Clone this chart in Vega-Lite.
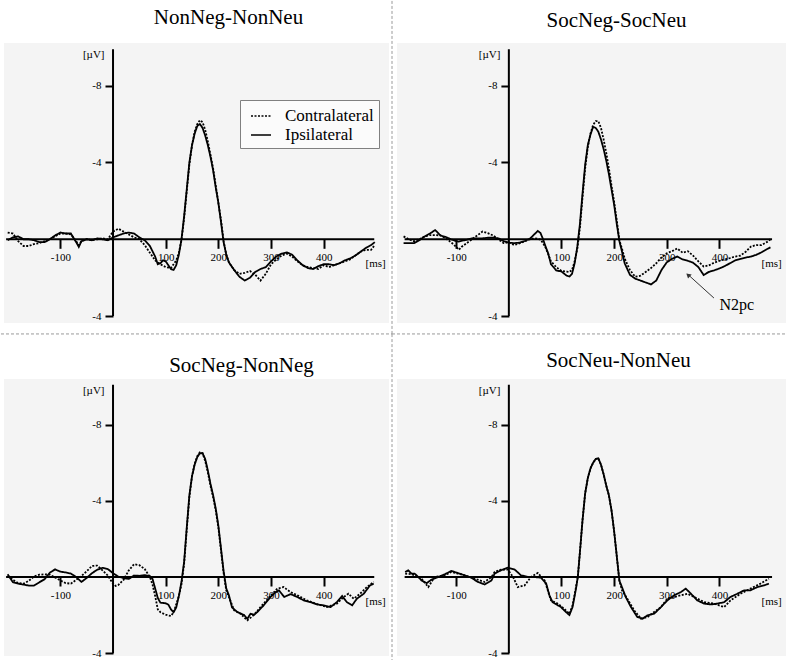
{
"$schema": "https://vega.github.io/schema/vega-lite/v6.json",
"padding": 0,
"background": "white",
"config": {
  "view": {"fill": "#f4f4f4", "stroke": null},
  "font": "Liberation Serif",
  "title": {"font": "Liberation Serif", "fontSize": 21, "fontWeight": "normal", "color": "black", "anchor": "middle", "frame": "group", "baseline": "alphabetic"},
  "axis": {"domain": false, "grid": false, "ticks": true, "tickColor": "black", "tickWidth": 2, "labelFont": "Liberation Serif", "labelFontSize": 11, "labelColor": "black", "titleFont": "Liberation Serif", "titleFontSize": 11, "titleFontWeight": "normal", "titleColor": "black", "titleAngle": 0, "labelExpr": "datum.value < 0 ? '-' + abs(datum.value) : (datum.value == 4 ? '-4' : '' + datum.value)"},
  "axisX": {"tickSize": 9, "labelPadding": 3, "titleAlign": "left", "titleBaseline": "middle"},
  "axisY": {"tickSize": 8, "labelPadding": 4, "titleAlign": "right", "titleBaseline": "middle"}
},
"datasets": {
"p1": [
{"t":-200,"v":0.05,"s":"I"},{"t":-190,"v":-0.10,"s":"I"},{"t":-180,"v":-0.15,"s":"I"},{"t":-170,"v":0.00,"s":"I"},{"t":-160,"v":0.00,"s":"I"},{"t":-150,"v":0.05,"s":"I"},{"t":-140,"v":0.15,"s":"I"},{"t":-130,"v":0.15,"s":"I"},{"t":-120,"v":0.00,"s":"I"},{"t":-110,"v":-0.20,"s":"I"},{"t":-100,"v":-0.35,"s":"I"},{"t":-90,"v":-0.30,"s":"I"},{"t":-80,"v":-0.30,"s":"I"},{"t":-70,"v":0.15,"s":"I"},{"t":-65,"v":0.40,"s":"I"},{"t":-60,"v":0.10,"s":"I"},{"t":-50,"v":0.00,"s":"I"},{"t":-40,"v":0.05,"s":"I"},{"t":-30,"v":-0.05,"s":"I"},{"t":-20,"v":0.00,"s":"I"},{"t":-10,"v":0.05,"s":"I"},{"t":0,"v":-0.10,"s":"I"},{"t":10,"v":-0.20,"s":"I"},{"t":20,"v":-0.30,"s":"I"},{"t":30,"v":-0.35,"s":"I"},{"t":40,"v":-0.30,"s":"I"},{"t":50,"v":-0.10,"s":"I"},{"t":60,"v":0.05,"s":"I"},{"t":70,"v":0.35,"s":"I"},{"t":80,"v":0.90,"s":"I"},{"t":85,"v":1.30,"s":"I"},{"t":90,"v":1.25,"s":"I"},{"t":95,"v":1.10,"s":"I"},{"t":100,"v":1.15,"s":"I"},{"t":110,"v":1.55,"s":"I"},{"t":115,"v":1.60,"s":"I"},{"t":120,"v":1.35,"s":"I"},{"t":125,"v":0.80,"s":"I"},{"t":130,"v":0.00,"s":"I"},{"t":135,"v":-1.20,"s":"I"},{"t":140,"v":-2.60,"s":"I"},{"t":145,"v":-4.00,"s":"I"},{"t":150,"v":-4.90,"s":"I"},{"t":155,"v":-5.50,"s":"I"},{"t":160,"v":-5.90,"s":"I"},{"t":165,"v":-6.00,"s":"I"},{"t":170,"v":-5.80,"s":"I"},{"t":175,"v":-5.40,"s":"I"},{"t":180,"v":-4.90,"s":"I"},{"t":185,"v":-4.30,"s":"I"},{"t":190,"v":-3.60,"s":"I"},{"t":195,"v":-2.70,"s":"I"},{"t":200,"v":-1.90,"s":"I"},{"t":205,"v":-0.90,"s":"I"},{"t":210,"v":0.15,"s":"I"},{"t":215,"v":0.80,"s":"I"},{"t":220,"v":1.20,"s":"I"},{"t":230,"v":1.60,"s":"I"},{"t":240,"v":1.95,"s":"I"},{"t":250,"v":2.15,"s":"I"},{"t":260,"v":2.00,"s":"I"},{"t":270,"v":1.70,"s":"I"},{"t":280,"v":1.55,"s":"I"},{"t":290,"v":1.45,"s":"I"},{"t":300,"v":1.15,"s":"I"},{"t":310,"v":0.90,"s":"I"},{"t":320,"v":0.75,"s":"I"},{"t":330,"v":0.68,"s":"I"},{"t":340,"v":0.80,"s":"I"},{"t":350,"v":1.10,"s":"I"},{"t":360,"v":1.35,"s":"I"},{"t":370,"v":1.50,"s":"I"},{"t":380,"v":1.55,"s":"I"},{"t":390,"v":1.40,"s":"I"},{"t":400,"v":1.30,"s":"I"},{"t":410,"v":1.30,"s":"I"},{"t":420,"v":1.35,"s":"I"},{"t":430,"v":1.25,"s":"I"},{"t":440,"v":1.10,"s":"I"},{"t":450,"v":1.00,"s":"I"},{"t":460,"v":0.85,"s":"I"},{"t":470,"v":0.65,"s":"I"},{"t":480,"v":0.45,"s":"I"},{"t":490,"v":0.30,"s":"I"},{"t":497,"v":0.15,"s":"I"},
{"t":-200,"v":-0.35,"s":"C"},{"t":-190,"v":-0.30,"s":"C"},{"t":-180,"v":0.10,"s":"C"},{"t":-170,"v":0.35,"s":"C"},{"t":-160,"v":0.35,"s":"C"},{"t":-150,"v":0.25,"s":"C"},{"t":-140,"v":0.20,"s":"C"},{"t":-130,"v":0.10,"s":"C"},{"t":-120,"v":0.00,"s":"C"},{"t":-110,"v":-0.15,"s":"C"},{"t":-100,"v":-0.30,"s":"C"},{"t":-90,"v":-0.30,"s":"C"},{"t":-80,"v":-0.25,"s":"C"},{"t":-70,"v":0.10,"s":"C"},{"t":-65,"v":0.30,"s":"C"},{"t":-60,"v":0.10,"s":"C"},{"t":-50,"v":0.00,"s":"C"},{"t":-40,"v":0.05,"s":"C"},{"t":-30,"v":0.00,"s":"C"},{"t":-20,"v":-0.05,"s":"C"},{"t":-10,"v":0.00,"s":"C"},{"t":0,"v":-0.40,"s":"C"},{"t":10,"v":-0.55,"s":"C"},{"t":20,"v":-0.40,"s":"C"},{"t":30,"v":-0.25,"s":"C"},{"t":40,"v":-0.10,"s":"C"},{"t":50,"v":0.00,"s":"C"},{"t":60,"v":0.30,"s":"C"},{"t":70,"v":0.70,"s":"C"},{"t":80,"v":1.10,"s":"C"},{"t":90,"v":1.30,"s":"C"},{"t":100,"v":1.45,"s":"C"},{"t":110,"v":1.50,"s":"C"},{"t":120,"v":1.10,"s":"C"},{"t":125,"v":0.70,"s":"C"},{"t":130,"v":0.05,"s":"C"},{"t":135,"v":-1.10,"s":"C"},{"t":140,"v":-2.50,"s":"C"},{"t":145,"v":-3.90,"s":"C"},{"t":150,"v":-4.90,"s":"C"},{"t":155,"v":-5.60,"s":"C"},{"t":160,"v":-6.00,"s":"C"},{"t":165,"v":-6.20,"s":"C"},{"t":170,"v":-6.10,"s":"C"},{"t":175,"v":-5.70,"s":"C"},{"t":180,"v":-5.10,"s":"C"},{"t":185,"v":-4.40,"s":"C"},{"t":190,"v":-3.70,"s":"C"},{"t":195,"v":-2.80,"s":"C"},{"t":200,"v":-1.90,"s":"C"},{"t":205,"v":-1.00,"s":"C"},{"t":210,"v":0.10,"s":"C"},{"t":215,"v":0.80,"s":"C"},{"t":220,"v":1.20,"s":"C"},{"t":230,"v":1.60,"s":"C"},{"t":240,"v":1.80,"s":"C"},{"t":250,"v":1.75,"s":"C"},{"t":260,"v":1.65,"s":"C"},{"t":270,"v":1.85,"s":"C"},{"t":280,"v":2.15,"s":"C"},{"t":290,"v":1.80,"s":"C"},{"t":300,"v":1.30,"s":"C"},{"t":310,"v":1.05,"s":"C"},{"t":320,"v":0.85,"s":"C"},{"t":330,"v":0.75,"s":"C"},{"t":340,"v":0.90,"s":"C"},{"t":350,"v":1.15,"s":"C"},{"t":360,"v":1.35,"s":"C"},{"t":370,"v":1.45,"s":"C"},{"t":380,"v":1.50,"s":"C"},{"t":390,"v":1.55,"s":"C"},{"t":400,"v":1.35,"s":"C"},{"t":410,"v":1.45,"s":"C"},{"t":420,"v":1.35,"s":"C"},{"t":430,"v":1.25,"s":"C"},{"t":440,"v":1.15,"s":"C"},{"t":450,"v":1.05,"s":"C"},{"t":460,"v":0.85,"s":"C"},{"t":470,"v":0.65,"s":"C"},{"t":480,"v":0.55,"s":"C"},{"t":490,"v":0.55,"s":"C"},{"t":497,"v":0.30,"s":"C"}
],
"p2": [
{"t":-200,"v":0.20,"s":"I"},{"t":-190,"v":0.20,"s":"I"},{"t":-180,"v":0.20,"s":"I"},{"t":-170,"v":0.05,"s":"I"},{"t":-160,"v":-0.15,"s":"I"},{"t":-150,"v":-0.30,"s":"I"},{"t":-140,"v":-0.48,"s":"I"},{"t":-130,"v":-0.20,"s":"I"},{"t":-120,"v":-0.12,"s":"I"},{"t":-110,"v":0.00,"s":"I"},{"t":-100,"v":0.10,"s":"I"},{"t":-95,"v":0.12,"s":"I"},{"t":-90,"v":0.08,"s":"I"},{"t":-80,"v":0.03,"s":"I"},{"t":-70,"v":-0.05,"s":"I"},{"t":-60,"v":-0.05,"s":"I"},{"t":-50,"v":-0.05,"s":"I"},{"t":-40,"v":-0.08,"s":"I"},{"t":-30,"v":-0.08,"s":"I"},{"t":-20,"v":-0.05,"s":"I"},{"t":-10,"v":0.10,"s":"I"},{"t":0,"v":0.18,"s":"I"},{"t":10,"v":0.20,"s":"I"},{"t":20,"v":0.18,"s":"I"},{"t":30,"v":0.09,"s":"I"},{"t":40,"v":-0.03,"s":"I"},{"t":50,"v":-0.30,"s":"I"},{"t":55,"v":-0.43,"s":"I"},{"t":60,"v":-0.33,"s":"I"},{"t":65,"v":0.00,"s":"I"},{"t":70,"v":0.40,"s":"I"},{"t":75,"v":0.75,"s":"I"},{"t":80,"v":1.30,"s":"I"},{"t":90,"v":1.62,"s":"I"},{"t":100,"v":1.68,"s":"I"},{"t":110,"v":1.90,"s":"I"},{"t":115,"v":1.94,"s":"I"},{"t":120,"v":1.80,"s":"I"},{"t":125,"v":1.25,"s":"I"},{"t":130,"v":0.40,"s":"I"},{"t":135,"v":-0.80,"s":"I"},{"t":140,"v":-2.40,"s":"I"},{"t":145,"v":-3.90,"s":"I"},{"t":150,"v":-4.90,"s":"I"},{"t":155,"v":-5.45,"s":"I"},{"t":160,"v":-5.85,"s":"I"},{"t":165,"v":-5.80,"s":"I"},{"t":170,"v":-5.60,"s":"I"},{"t":175,"v":-5.20,"s":"I"},{"t":180,"v":-4.70,"s":"I"},{"t":185,"v":-4.10,"s":"I"},{"t":190,"v":-3.40,"s":"I"},{"t":195,"v":-2.60,"s":"I"},{"t":200,"v":-1.80,"s":"I"},{"t":205,"v":-0.80,"s":"I"},{"t":210,"v":0.10,"s":"I"},{"t":215,"v":0.65,"s":"I"},{"t":220,"v":1.25,"s":"I"},{"t":230,"v":1.85,"s":"I"},{"t":240,"v":2.05,"s":"I"},{"t":250,"v":2.15,"s":"I"},{"t":260,"v":2.25,"s":"I"},{"t":270,"v":2.35,"s":"I"},{"t":280,"v":2.15,"s":"I"},{"t":290,"v":1.60,"s":"I"},{"t":300,"v":1.20,"s":"I"},{"t":310,"v":1.02,"s":"I"},{"t":320,"v":0.90,"s":"I"},{"t":330,"v":1.05,"s":"I"},{"t":340,"v":1.12,"s":"I"},{"t":350,"v":1.22,"s":"I"},{"t":360,"v":1.45,"s":"I"},{"t":370,"v":1.86,"s":"I"},{"t":380,"v":1.70,"s":"I"},{"t":390,"v":1.62,"s":"I"},{"t":400,"v":1.52,"s":"I"},{"t":410,"v":1.40,"s":"I"},{"t":420,"v":1.25,"s":"I"},{"t":430,"v":1.10,"s":"I"},{"t":440,"v":1.02,"s":"I"},{"t":450,"v":0.95,"s":"I"},{"t":460,"v":0.90,"s":"I"},{"t":470,"v":0.81,"s":"I"},{"t":480,"v":0.68,"s":"I"},{"t":490,"v":0.52,"s":"I"},{"t":497,"v":0.42,"s":"I"},
{"t":-200,"v":-0.15,"s":"C"},{"t":-190,"v":0.00,"s":"C"},{"t":-180,"v":0.10,"s":"C"},{"t":-170,"v":0.00,"s":"C"},{"t":-160,"v":-0.15,"s":"C"},{"t":-150,"v":-0.22,"s":"C"},{"t":-140,"v":-0.22,"s":"C"},{"t":-130,"v":-0.20,"s":"C"},{"t":-120,"v":-0.05,"s":"C"},{"t":-110,"v":0.15,"s":"C"},{"t":-100,"v":0.40,"s":"C"},{"t":-95,"v":0.55,"s":"C"},{"t":-90,"v":0.40,"s":"C"},{"t":-80,"v":0.20,"s":"C"},{"t":-70,"v":0.00,"s":"C"},{"t":-60,"v":-0.20,"s":"C"},{"t":-50,"v":-0.40,"s":"C"},{"t":-40,"v":-0.32,"s":"C"},{"t":-30,"v":-0.20,"s":"C"},{"t":-20,"v":0.00,"s":"C"},{"t":-10,"v":0.20,"s":"C"},{"t":0,"v":0.15,"s":"C"},{"t":10,"v":0.30,"s":"C"},{"t":20,"v":0.22,"s":"C"},{"t":30,"v":0.10,"s":"C"},{"t":40,"v":0.00,"s":"C"},{"t":50,"v":-0.05,"s":"C"},{"t":55,"v":-0.02,"s":"C"},{"t":60,"v":0.02,"s":"C"},{"t":65,"v":0.20,"s":"C"},{"t":70,"v":0.45,"s":"C"},{"t":75,"v":0.80,"s":"C"},{"t":80,"v":1.15,"s":"C"},{"t":90,"v":1.45,"s":"C"},{"t":100,"v":1.65,"s":"C"},{"t":110,"v":1.68,"s":"C"},{"t":115,"v":1.70,"s":"C"},{"t":120,"v":1.60,"s":"C"},{"t":125,"v":1.15,"s":"C"},{"t":130,"v":0.50,"s":"C"},{"t":135,"v":-0.60,"s":"C"},{"t":140,"v":-2.20,"s":"C"},{"t":145,"v":-3.70,"s":"C"},{"t":150,"v":-4.80,"s":"C"},{"t":155,"v":-5.50,"s":"C"},{"t":160,"v":-5.95,"s":"C"},{"t":165,"v":-6.15,"s":"C"},{"t":170,"v":-6.15,"s":"C"},{"t":175,"v":-5.80,"s":"C"},{"t":180,"v":-5.20,"s":"C"},{"t":185,"v":-4.50,"s":"C"},{"t":190,"v":-3.70,"s":"C"},{"t":195,"v":-2.80,"s":"C"},{"t":200,"v":-1.95,"s":"C"},{"t":205,"v":-1.00,"s":"C"},{"t":210,"v":0.05,"s":"C"},{"t":215,"v":0.50,"s":"C"},{"t":220,"v":1.00,"s":"C"},{"t":230,"v":1.60,"s":"C"},{"t":240,"v":1.95,"s":"C"},{"t":250,"v":1.90,"s":"C"},{"t":260,"v":1.70,"s":"C"},{"t":270,"v":1.50,"s":"C"},{"t":280,"v":1.25,"s":"C"},{"t":290,"v":0.95,"s":"C"},{"t":300,"v":0.73,"s":"C"},{"t":310,"v":0.62,"s":"C"},{"t":320,"v":0.48,"s":"C"},{"t":330,"v":0.70,"s":"C"},{"t":340,"v":0.62,"s":"C"},{"t":350,"v":0.85,"s":"C"},{"t":360,"v":1.15,"s":"C"},{"t":370,"v":1.42,"s":"C"},{"t":380,"v":1.36,"s":"C"},{"t":390,"v":1.22,"s":"C"},{"t":400,"v":1.12,"s":"C"},{"t":410,"v":1.05,"s":"C"},{"t":420,"v":0.98,"s":"C"},{"t":430,"v":0.90,"s":"C"},{"t":440,"v":0.85,"s":"C"},{"t":450,"v":0.65,"s":"C"},{"t":460,"v":0.38,"s":"C"},{"t":470,"v":0.30,"s":"C"},{"t":480,"v":0.30,"s":"C"},{"t":490,"v":0.15,"s":"C"},{"t":497,"v":0.00,"s":"C"}
],
"p3": [
{"t":-200,"v":-0.14,"s":"I"},{"t":-190,"v":0.28,"s":"I"},{"t":-180,"v":0.35,"s":"I"},{"t":-170,"v":0.40,"s":"I"},{"t":-160,"v":0.45,"s":"I"},{"t":-150,"v":0.45,"s":"I"},{"t":-140,"v":0.28,"s":"I"},{"t":-130,"v":0.12,"s":"I"},{"t":-120,"v":-0.23,"s":"I"},{"t":-110,"v":-0.40,"s":"I"},{"t":-100,"v":-0.28,"s":"I"},{"t":-90,"v":-0.24,"s":"I"},{"t":-80,"v":-0.18,"s":"I"},{"t":-70,"v":0.00,"s":"I"},{"t":-60,"v":0.26,"s":"I"},{"t":-50,"v":0.05,"s":"I"},{"t":-40,"v":-0.20,"s":"I"},{"t":-30,"v":-0.38,"s":"I"},{"t":-20,"v":-0.48,"s":"I"},{"t":-10,"v":-0.42,"s":"I"},{"t":0,"v":-0.20,"s":"I"},{"t":10,"v":-0.02,"s":"I"},{"t":20,"v":0.06,"s":"I"},{"t":30,"v":0.10,"s":"I"},{"t":40,"v":-0.08,"s":"I"},{"t":50,"v":-0.06,"s":"I"},{"t":60,"v":-0.10,"s":"I"},{"t":70,"v":-0.05,"s":"I"},{"t":75,"v":0.10,"s":"I"},{"t":80,"v":0.60,"s":"I"},{"t":85,"v":1.10,"s":"I"},{"t":90,"v":1.35,"s":"I"},{"t":100,"v":1.38,"s":"I"},{"t":105,"v":1.45,"s":"I"},{"t":110,"v":1.70,"s":"I"},{"t":115,"v":1.85,"s":"I"},{"t":120,"v":1.60,"s":"I"},{"t":125,"v":1.00,"s":"I"},{"t":130,"v":0.25,"s":"I"},{"t":135,"v":-0.80,"s":"I"},{"t":140,"v":-2.60,"s":"I"},{"t":145,"v":-4.30,"s":"I"},{"t":150,"v":-5.30,"s":"I"},{"t":155,"v":-5.90,"s":"I"},{"t":160,"v":-6.30,"s":"I"},{"t":165,"v":-6.50,"s":"I"},{"t":170,"v":-6.50,"s":"I"},{"t":175,"v":-6.20,"s":"I"},{"t":180,"v":-5.60,"s":"I"},{"t":185,"v":-4.90,"s":"I"},{"t":190,"v":-4.30,"s":"I"},{"t":195,"v":-3.60,"s":"I"},{"t":200,"v":-2.70,"s":"I"},{"t":205,"v":-1.50,"s":"I"},{"t":210,"v":-0.30,"s":"I"},{"t":215,"v":0.60,"s":"I"},{"t":220,"v":0.96,"s":"I"},{"t":226,"v":1.60,"s":"I"},{"t":236,"v":1.84,"s":"I"},{"t":249,"v":2.00,"s":"I"},{"t":255,"v":2.20,"s":"I"},{"t":261,"v":1.93,"s":"I"},{"t":268,"v":1.98,"s":"I"},{"t":274,"v":1.84,"s":"I"},{"t":286,"v":1.49,"s":"I"},{"t":299,"v":1.05,"s":"I"},{"t":309,"v":0.79,"s":"I"},{"t":315,"v":0.70,"s":"I"},{"t":325,"v":1.05,"s":"I"},{"t":337,"v":0.90,"s":"I"},{"t":350,"v":1.05,"s":"I"},{"t":362,"v":1.23,"s":"I"},{"t":375,"v":1.32,"s":"I"},{"t":387,"v":1.44,"s":"I"},{"t":400,"v":1.49,"s":"I"},{"t":413,"v":1.58,"s":"I"},{"t":425,"v":1.32,"s":"I"},{"t":435,"v":1.00,"s":"I"},{"t":444,"v":1.32,"s":"I"},{"t":454,"v":1.49,"s":"I"},{"t":463,"v":1.14,"s":"I"},{"t":476,"v":0.88,"s":"I"},{"t":488,"v":0.44,"s":"I"},{"t":495,"v":0.35,"s":"I"},
{"t":-200,"v":-0.05,"s":"C"},{"t":-190,"v":0.15,"s":"C"},{"t":-180,"v":0.32,"s":"C"},{"t":-170,"v":0.35,"s":"C"},{"t":-160,"v":0.20,"s":"C"},{"t":-150,"v":-0.03,"s":"C"},{"t":-140,"v":-0.12,"s":"C"},{"t":-130,"v":-0.14,"s":"C"},{"t":-120,"v":-0.12,"s":"C"},{"t":-110,"v":0.03,"s":"C"},{"t":-100,"v":0.18,"s":"C"},{"t":-90,"v":0.32,"s":"C"},{"t":-80,"v":0.35,"s":"C"},{"t":-70,"v":0.15,"s":"C"},{"t":-60,"v":-0.05,"s":"C"},{"t":-50,"v":-0.30,"s":"C"},{"t":-40,"v":-0.58,"s":"C"},{"t":-30,"v":-0.60,"s":"C"},{"t":-20,"v":-0.35,"s":"C"},{"t":-10,"v":-0.08,"s":"C"},{"t":0,"v":0.35,"s":"C"},{"t":5,"v":0.47,"s":"C"},{"t":10,"v":0.42,"s":"C"},{"t":20,"v":0.15,"s":"C"},{"t":30,"v":-0.35,"s":"C"},{"t":40,"v":-0.67,"s":"C"},{"t":50,"v":-0.62,"s":"C"},{"t":60,"v":-0.42,"s":"C"},{"t":70,"v":0.00,"s":"C"},{"t":75,"v":0.40,"s":"C"},{"t":80,"v":1.00,"s":"C"},{"t":85,"v":1.70,"s":"C"},{"t":90,"v":1.85,"s":"C"},{"t":100,"v":1.98,"s":"C"},{"t":105,"v":2.02,"s":"C"},{"t":110,"v":2.05,"s":"C"},{"t":115,"v":1.85,"s":"C"},{"t":120,"v":1.44,"s":"C"},{"t":125,"v":1.00,"s":"C"},{"t":130,"v":0.38,"s":"C"},{"t":135,"v":-0.70,"s":"C"},{"t":140,"v":-2.50,"s":"C"},{"t":145,"v":-4.20,"s":"C"},{"t":150,"v":-5.30,"s":"C"},{"t":155,"v":-5.95,"s":"C"},{"t":160,"v":-6.35,"s":"C"},{"t":165,"v":-6.55,"s":"C"},{"t":170,"v":-6.50,"s":"C"},{"t":175,"v":-6.10,"s":"C"},{"t":180,"v":-5.50,"s":"C"},{"t":185,"v":-4.80,"s":"C"},{"t":190,"v":-4.20,"s":"C"},{"t":195,"v":-3.50,"s":"C"},{"t":200,"v":-2.60,"s":"C"},{"t":205,"v":-1.40,"s":"C"},{"t":210,"v":-0.20,"s":"C"},{"t":215,"v":0.70,"s":"C"},{"t":220,"v":1.05,"s":"C"},{"t":230,"v":1.75,"s":"C"},{"t":242,"v":1.93,"s":"C"},{"t":255,"v":2.28,"s":"C"},{"t":268,"v":1.98,"s":"C"},{"t":280,"v":1.58,"s":"C"},{"t":299,"v":1.00,"s":"C"},{"t":312,"v":0.61,"s":"C"},{"t":324,"v":0.53,"s":"C"},{"t":337,"v":0.79,"s":"C"},{"t":350,"v":0.96,"s":"C"},{"t":368,"v":1.23,"s":"C"},{"t":385,"v":1.40,"s":"C"},{"t":406,"v":1.58,"s":"C"},{"t":425,"v":1.40,"s":"C"},{"t":438,"v":1.05,"s":"C"},{"t":447,"v":0.88,"s":"C"},{"t":457,"v":1.14,"s":"C"},{"t":469,"v":0.88,"s":"C"},{"t":482,"v":0.53,"s":"C"},{"t":495,"v":0.26,"s":"C"}
],
"p4": [
{"t":-197,"v":-0.26,"s":"I"},{"t":-191,"v":-0.35,"s":"I"},{"t":-185,"v":-0.18,"s":"I"},{"t":-179,"v":-0.18,"s":"I"},{"t":-172,"v":0.00,"s":"I"},{"t":-166,"v":0.18,"s":"I"},{"t":-156,"v":0.32,"s":"I"},{"t":-147,"v":0.14,"s":"I"},{"t":-134,"v":0.00,"s":"I"},{"t":-122,"v":-0.14,"s":"I"},{"t":-109,"v":-0.32,"s":"I"},{"t":-97,"v":-0.21,"s":"I"},{"t":-84,"v":-0.09,"s":"I"},{"t":-71,"v":0.04,"s":"I"},{"t":-59,"v":0.26,"s":"I"},{"t":-46,"v":0.39,"s":"I"},{"t":-33,"v":0.18,"s":"I"},{"t":-27,"v":-0.18,"s":"I"},{"t":-15,"v":-0.35,"s":"I"},{"t":-2,"v":-0.49,"s":"I"},{"t":11,"v":-0.39,"s":"I"},{"t":23,"v":-0.09,"s":"I"},{"t":36,"v":0.00,"s":"I"},{"t":49,"v":0.00,"s":"I"},{"t":61,"v":0.04,"s":"I"},{"t":71,"v":0.35,"s":"I"},{"t":77,"v":0.96,"s":"I"},{"t":83,"v":1.32,"s":"I"},{"t":93,"v":1.49,"s":"I"},{"t":99,"v":1.58,"s":"I"},{"t":105,"v":1.75,"s":"I"},{"t":115,"v":2.00,"s":"I"},{"t":121,"v":1.58,"s":"I"},{"t":127,"v":0.70,"s":"I"},{"t":131,"v":0.00,"s":"I"},{"t":135,"v":-1.30,"s":"I"},{"t":140,"v":-3.00,"s":"I"},{"t":145,"v":-4.40,"s":"I"},{"t":150,"v":-5.20,"s":"I"},{"t":155,"v":-5.70,"s":"I"},{"t":160,"v":-6.00,"s":"I"},{"t":165,"v":-6.20,"s":"I"},{"t":170,"v":-6.23,"s":"I"},{"t":175,"v":-5.90,"s":"I"},{"t":180,"v":-5.40,"s":"I"},{"t":185,"v":-4.80,"s":"I"},{"t":190,"v":-4.30,"s":"I"},{"t":195,"v":-3.50,"s":"I"},{"t":200,"v":-2.40,"s":"I"},{"t":205,"v":-1.10,"s":"I"},{"t":210,"v":0.20,"s":"I"},{"t":213,"v":0.40,"s":"I"},{"t":222,"v":1.05,"s":"I"},{"t":232,"v":1.58,"s":"I"},{"t":244,"v":2.10,"s":"I"},{"t":254,"v":2.19,"s":"I"},{"t":263,"v":2.02,"s":"I"},{"t":276,"v":1.93,"s":"I"},{"t":289,"v":1.58,"s":"I"},{"t":301,"v":1.23,"s":"I"},{"t":314,"v":0.96,"s":"I"},{"t":327,"v":0.79,"s":"I"},{"t":336,"v":0.61,"s":"I"},{"t":346,"v":0.88,"s":"I"},{"t":358,"v":1.23,"s":"I"},{"t":371,"v":1.40,"s":"I"},{"t":384,"v":1.44,"s":"I"},{"t":396,"v":1.40,"s":"I"},{"t":409,"v":1.32,"s":"I"},{"t":421,"v":1.05,"s":"I"},{"t":434,"v":0.88,"s":"I"},{"t":447,"v":0.70,"s":"I"},{"t":459,"v":0.70,"s":"I"},{"t":472,"v":0.53,"s":"I"},{"t":485,"v":0.44,"s":"I"},{"t":494,"v":0.35,"s":"I"},
{"t":-197,"v":-0.18,"s":"C"},{"t":-185,"v":-0.15,"s":"C"},{"t":-179,"v":-0.09,"s":"C"},{"t":-166,"v":0.09,"s":"C"},{"t":-153,"v":0.53,"s":"C"},{"t":-141,"v":0.00,"s":"C"},{"t":-122,"v":-0.09,"s":"C"},{"t":-109,"v":-0.26,"s":"C"},{"t":-97,"v":-0.18,"s":"C"},{"t":-84,"v":-0.09,"s":"C"},{"t":-65,"v":0.09,"s":"C"},{"t":-46,"v":0.26,"s":"C"},{"t":-33,"v":0.00,"s":"C"},{"t":-27,"v":-0.26,"s":"C"},{"t":-15,"v":-0.39,"s":"C"},{"t":-2,"v":-0.39,"s":"C"},{"t":8,"v":0.00,"s":"C"},{"t":17,"v":0.53,"s":"C"},{"t":30,"v":0.44,"s":"C"},{"t":42,"v":0.00,"s":"C"},{"t":55,"v":-0.21,"s":"C"},{"t":68,"v":0.18,"s":"C"},{"t":80,"v":1.23,"s":"C"},{"t":93,"v":1.40,"s":"C"},{"t":105,"v":1.67,"s":"C"},{"t":115,"v":1.93,"s":"C"},{"t":121,"v":1.49,"s":"C"},{"t":127,"v":0.61,"s":"C"},{"t":131,"v":0.00,"s":"C"},{"t":135,"v":-1.30,"s":"C"},{"t":140,"v":-3.00,"s":"C"},{"t":145,"v":-4.40,"s":"C"},{"t":150,"v":-5.20,"s":"C"},{"t":155,"v":-5.70,"s":"C"},{"t":160,"v":-6.00,"s":"C"},{"t":165,"v":-6.20,"s":"C"},{"t":170,"v":-6.23,"s":"C"},{"t":175,"v":-5.90,"s":"C"},{"t":180,"v":-5.40,"s":"C"},{"t":185,"v":-4.80,"s":"C"},{"t":190,"v":-4.30,"s":"C"},{"t":195,"v":-3.50,"s":"C"},{"t":200,"v":-2.40,"s":"C"},{"t":205,"v":-1.10,"s":"C"},{"t":210,"v":0.20,"s":"C"},{"t":215,"v":0.70,"s":"C"},{"t":225,"v":1.14,"s":"C"},{"t":238,"v":1.75,"s":"C"},{"t":251,"v":2.19,"s":"C"},{"t":263,"v":2.11,"s":"C"},{"t":276,"v":1.84,"s":"C"},{"t":289,"v":1.58,"s":"C"},{"t":301,"v":1.14,"s":"C"},{"t":314,"v":1.05,"s":"C"},{"t":327,"v":0.96,"s":"C"},{"t":339,"v":0.88,"s":"C"},{"t":352,"v":1.05,"s":"C"},{"t":371,"v":1.32,"s":"C"},{"t":390,"v":1.40,"s":"C"},{"t":409,"v":1.58,"s":"C"},{"t":421,"v":1.23,"s":"C"},{"t":440,"v":0.88,"s":"C"},{"t":459,"v":0.61,"s":"C"},{"t":478,"v":0.35,"s":"C"},{"t":494,"v":0.09,"s":"C"}
]
},
"columns": 2,
"spacing": {"row": 56, "column": 8},
"bounds": "flush",
"concat": [
  {"title": {"text": "NonNeg-NonNeu", "dx": 32, "offset": 0, "dy": 28},
   "width": 385, "height": 280,
   "layer": [
    {"data": {"name": "p1"}, "mark": {"type": "line", "color": "black", "strokeWidth": 1.8},
     "encoding": {
      "x": {"field": "t", "type": "quantitative", "scale": {"domain": [-207, 524], "nice": false, "zero": false}, "axis": {"values": [-100, 100, 200, 300, 400], "offset": -83.7, "title": "[ms]", "titleX": 361, "titleY": 24}},
      "y": {"field": "v", "type": "quantitative", "scale": {"domain": [-10.22, 4.36], "reverse": true, "nice": false, "zero": false}, "axis": {"values": [-8, -4, 4], "offset": -109, "title": "[µV]", "titleX": -9, "titleY": 11}},
      "strokeDash": {"field": "s", "type": "nominal", "scale": {"domain": ["C", "I"], "range": [[2, 1.5], [1, 0]]},
        "legend": {"orient": "none", "legendX": 236, "legendY": 57, "title": null, "symbolType": "stroke", "symbolSize": 400, "symbolStrokeWidth": 1.5, "symbolStrokeColor": "black", "symbolOffset": 5, "labelFont": "Liberation Serif", "labelFontSize": 17, "labelColor": "black", "labelOffset": 13, "rowPadding": 0, "padding": 5, "fillColor": "#fbfbfb", "strokeColor": "#808080", "labelExpr": "datum.value == 'C' ? 'Contralateral' : 'Ipsilateral'"}}
     }},
    {"data": {"values": [{}]}, "mark": {"type": "rule", "color": "black", "strokeWidth": 2}, "encoding": {"x": {"datum": 0}, "y": {"datum": -9.9}, "y2": {"datum": 4}}},
    {"data": {"values": [{}]}, "mark": {"type": "rule", "color": "black", "strokeWidth": 2}, "encoding": {"y": {"datum": 0}, "x": {"datum": -203}, "x2": {"datum": 496}}},
    {"data": {"values": [{}]}, "mark": {"type": "rule", "color": "#9a9a9a", "strokeWidth": 1, "strokeDash": [3, 2]}, "encoding": {"x": {"datum": 529.7}, "y": {"datum": -12.41}, "y2": {"datum": 4.93}}},
    {"data": {"values": [{}]}, "mark": {"type": "rule", "color": "#9a9a9a", "strokeWidth": 1, "strokeDash": [3, 2]}, "encoding": {"y": {"datum": 4.93}, "x": {"datum": -212.7}, "x2": {"datum": 529.7}}}
   ]},
  {"title": {"text": "SocNeg-SocNeu", "dx": 25, "offset": 12},
   "width": 389, "height": 280,
   "layer": [
    {"data": {"name": "p2"}, "mark": {"type": "line", "color": "black", "strokeWidth": 1.8},
     "encoding": {
      "x": {"field": "t", "type": "quantitative", "scale": {"domain": [-212.5, 526.5], "nice": false, "zero": false}, "axis": {"values": [-100, 100, 200, 300, 400], "offset": -83.7, "title": "[ms]", "titleX": 364, "titleY": 24}},
      "y": {"field": "v", "type": "quantitative", "scale": {"domain": [-10.22, 4.36], "reverse": true, "nice": false, "zero": false}, "axis": {"values": [-8, -4, 4], "offset": -111.9, "title": "[µV]", "titleX": -9, "titleY": 11}},
      "strokeDash": {"field": "s", "type": "nominal", "scale": {"domain": ["C", "I"], "range": [[2, 1.5], [1, 0]]}, "legend": null}
     }},
    {"data": {"values": [{}]}, "mark": {"type": "rule", "color": "black", "strokeWidth": 2}, "encoding": {"x": {"datum": 0}, "y": {"datum": -9.9}, "y2": {"datum": 4}}},
    {"data": {"values": [{}]}, "mark": {"type": "rule", "color": "black", "strokeWidth": 2}, "encoding": {"y": {"datum": 0}, "x": {"datum": -198}, "x2": {"datum": 500}}},
    {"data": {"values": [{}]}, "mark": {"type": "rule", "color": "#333333", "strokeWidth": 1}, "encoding": {"x": {"datum": 389.6}, "y": {"datum": 3.06}, "x2": {"datum": 340}, "y2": {"datum": 1.83}}},
    {"data": {"values": [{}]}, "mark": {"type": "point", "shape": "triangle-up", "filled": true, "color": "#333333", "size": 30, "angle": 312, "opacity": 1}, "encoding": {"x": {"datum": 340.5}, "y": {"datum": 1.86}}},
    {"data": {"values": [{}]}, "mark": {"type": "text", "text": "N2pc", "font": "Liberation Serif", "fontSize": 16, "color": "black"}, "encoding": {"x": {"datum": 433}, "y": {"datum": 3.42}}},
    {"data": {"values": [{}]}, "mark": {"type": "rule", "color": "#9a9a9a", "strokeWidth": 1, "strokeDash": [3, 2]}, "encoding": {"y": {"datum": 4.93}, "x": {"datum": -222}, "x2": {"datum": 530.3}}}
   ]},
  {"title": {"text": "SocNeg-NonNeg", "dx": 45, "offset": 0, "dy": 42},
   "width": 385, "height": 277,
   "layer": [
    {"data": {"name": "p3"}, "mark": {"type": "line", "color": "black", "strokeWidth": 1.8},
     "encoding": {
      "x": {"field": "t", "type": "quantitative", "scale": {"domain": [-207, 524], "nice": false, "zero": false}, "axis": {"values": [-100, 100, 200, 300, 400], "offset": -79, "title": "[ms]", "titleX": 361, "titleY": 24}},
      "y": {"field": "v", "type": "quantitative", "scale": {"domain": [-10.4, 4.15], "reverse": true, "nice": false, "zero": false}, "axis": {"values": [-8, -4, 4], "offset": -109, "title": "[µV]", "titleX": -9, "titleY": 11}},
      "strokeDash": {"field": "s", "type": "nominal", "scale": {"domain": ["C", "I"], "range": [[2, 1.5], [1, 0]]}, "legend": null}
     }},
    {"data": {"values": [{}]}, "mark": {"type": "rule", "color": "black", "strokeWidth": 2}, "encoding": {"x": {"datum": 0}, "y": {"datum": -10.1}, "y2": {"datum": 4}}},
    {"data": {"values": [{}]}, "mark": {"type": "rule", "color": "black", "strokeWidth": 2}, "encoding": {"y": {"datum": 0}, "x": {"datum": -203}, "x2": {"datum": 496}}},
    {"data": {"values": [{}]}, "mark": {"type": "rule", "color": "#9a9a9a", "strokeWidth": 1, "strokeDash": [3, 2]}, "encoding": {"x": {"datum": 529.7}, "y": {"datum": -12.76}, "y2": {"datum": 4.41}}}
   ]},
  {"title": {"text": "SocNeu-NonNeu", "dx": 27, "offset": 8},
   "width": 389, "height": 277,
   "layer": [
    {"data": {"name": "p4"}, "mark": {"type": "line", "color": "black", "strokeWidth": 1.8},
     "encoding": {
      "x": {"field": "t", "type": "quantitative", "scale": {"domain": [-212.5, 526.5], "nice": false, "zero": false}, "axis": {"values": [-100, 100, 200, 300, 400], "offset": -79, "title": "[ms]", "titleX": 364, "titleY": 24}},
      "y": {"field": "v", "type": "quantitative", "scale": {"domain": [-10.4, 4.15], "reverse": true, "nice": false, "zero": false}, "axis": {"values": [-8, -4, 4], "offset": -111.9, "title": "[µV]", "titleX": -9, "titleY": 11}},
      "strokeDash": {"field": "s", "type": "nominal", "scale": {"domain": ["C", "I"], "range": [[2, 1.5], [1, 0]]}, "legend": null}
     }},
    {"data": {"values": [{}]}, "mark": {"type": "rule", "color": "black", "strokeWidth": 2}, "encoding": {"x": {"datum": 0}, "y": {"datum": -10.1}, "y2": {"datum": 4}}},
    {"data": {"values": [{}]}, "mark": {"type": "rule", "color": "black", "strokeWidth": 2}, "encoding": {"y": {"datum": 0}, "x": {"datum": -198}, "x2": {"datum": 500}}}
   ]}
]
}
